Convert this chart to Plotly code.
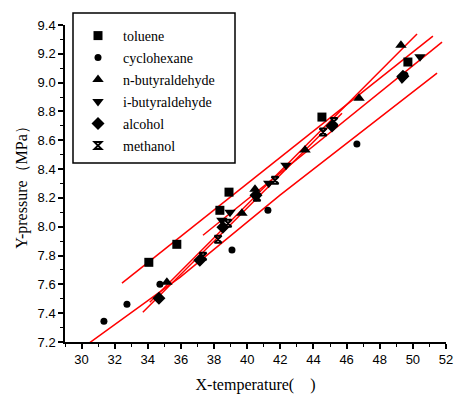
import plotly.graph_objects as go

# ---- data ----
toluene_x = [34.06, 35.75, 38.35, 38.90, 44.51, 49.70]
toluene_y = [7.753, 7.878, 8.114, 8.240, 8.761, 9.143]

cyclohexane_x = [31.35, 32.74, 34.73, 39.08, 41.25, 46.62, 49.52]
cyclohexane_y = [7.344, 7.462, 7.601, 7.838, 8.115, 8.574, 9.053]

nbutyr_x = [35.15, 39.68, 40.47, 43.49, 46.75, 49.28]
nbutyr_y = [7.615, 8.094, 8.260, 8.533, 8.892, 9.260]

ibutyr_x = [38.47, 38.96, 41.30, 42.34, 49.34, 50.43]
ibutyr_y = [8.045, 8.100, 8.302, 8.427, 9.025, 9.180]

alcohol_x = [34.67, 37.14, 38.53, 40.53, 45.12, 49.40]
alcohol_y = [7.503, 7.767, 7.996, 8.219, 8.699, 9.044]

methanol_x = [37.33, 38.24, 38.84, 40.59, 41.68, 44.58, 45.24]
methanol_y = [7.795, 7.913, 8.024, 8.205, 8.323, 8.657, 8.730]

# fitted lines
fit_toluene_x = [32.44, 51.21]
fit_toluene_y = [7.608, 9.323]
fit_cyclo_x = [30.44, 35.94, 41.98, 51.46]
fit_cyclo_y = [7.191, 7.649, 8.219, 9.066]
fit_nbutyr_x = [34.12, 50.25]
fit_nbutyr_y = [7.476, 9.337]
fit_ibutyr_x = [37.33, 51.76]
fit_ibutyr_y = [7.941, 9.281]
fit_alcohol_x = [33.70, 45.72]
fit_alcohol_y = [7.407, 8.788]

series = [
    ("toluene", toluene_x, toluene_y, "square", 9),
    ("cyclohexane", cyclohexane_x, cyclohexane_y, "circle", 7),
    ("n-butyraldehyde", nbutyr_x, nbutyr_y, "triangle-up", 10),
    ("i-butyraldehyde", ibutyr_x, ibutyr_y, "triangle-down", 10),
    ("alcohol", alcohol_x, alcohol_y, "diamond", 10),
    ("methanol", methanol_x, methanol_y, "hourglass-open", 7),
]
fits = [
    (fit_toluene_x, fit_toluene_y),
    (fit_cyclo_x, fit_cyclo_y),
    (fit_nbutyr_x, fit_nbutyr_y),
    (fit_ibutyr_x, fit_ibutyr_y),
    (fit_alcohol_x, fit_alcohol_y),
]

fig = go.Figure()
for fx, fy in fits:
    fig.add_trace(go.Scatter(x=fx, y=fy, mode="lines",
                             line=dict(color="#ff0000", width=1.5),
                             showlegend=False, hoverinfo="skip"))
for name, xs, ys, sym, sz in series:
    mk = dict(symbol=sym, size=sz, color="black")
    if sym == "hourglass-open":
        mk["line"] = dict(color="black", width=2)
    fig.add_trace(go.Scatter(x=xs, y=ys, mode="markers", name=name,
                             legendgroup=name, marker=mk))

L, R, T, B = 65, 8, 25, 52
W, H = 454, 394
pw, ph = W - L - R, H - T - B

def px2paper(px, py):
    return (px - L) / pw, (H - B - py) / ph

x0, y0 = px2paper(73, 163)
x1, y1 = px2paper(235, 13)
fig.add_shape(type="rect", xref="paper", yref="paper", x0=x0, y0=y0, x1=x1, y1=y1,
              line=dict(color="black", width=1.5), fillcolor="rgba(0,0,0,0)")

tickfont = dict(family="Liberation Sans, Arial", size=13, color="black")
titlefont = dict(family="Liberation Serif, Times New Roman", size=16, color="black")
fig.update_layout(
    width=W, height=H,
    margin=dict(l=L, r=R, t=T, b=B),
    plot_bgcolor="white", paper_bgcolor="white",
    showlegend=True,
    legend=dict(x=px2paper(73, 0)[0], y=px2paper(0, 20)[1], xanchor="left", yanchor="top",
                bgcolor="rgba(0,0,0,0)", borderwidth=0,
                font=dict(family="Liberation Serif, Times New Roman", size=14, color="black"),
                tracegroupgap=0.8, itemwidth=40),
    xaxis=dict(range=[29, 52], tick0=30, dtick=2, showgrid=False, zeroline=False,
               automargin=False,
               showline=True, linecolor="black", linewidth=1.5,
               ticks="outside", ticklen=5, tickwidth=1.5, tickcolor="black",
               tickfont=tickfont,
               minor=dict(dtick=1, ticks="outside", ticklen=3, tickwidth=1, tickcolor="black", showgrid=False),
               title=dict(text="X-temperature(\u2003)", font=titlefont, standoff=14)),
    yaxis=dict(range=[7.2, 9.4], tick0=7.2, dtick=0.2, tickformat=".1f", showgrid=False, zeroline=False,
               automargin=False,
               showline=True, linecolor="black", linewidth=1.5,
               ticks="outside", ticklen=5, tickwidth=1.5, tickcolor="black",
               tickfont=tickfont,
               minor=dict(dtick=0.1, ticks="outside", ticklen=3, tickwidth=1, tickcolor="black", showgrid=False),
               title=dict(text="Y-pressure（MPa）", font=titlefont, standoff=6)),
)

fig.write_html("out.html")
